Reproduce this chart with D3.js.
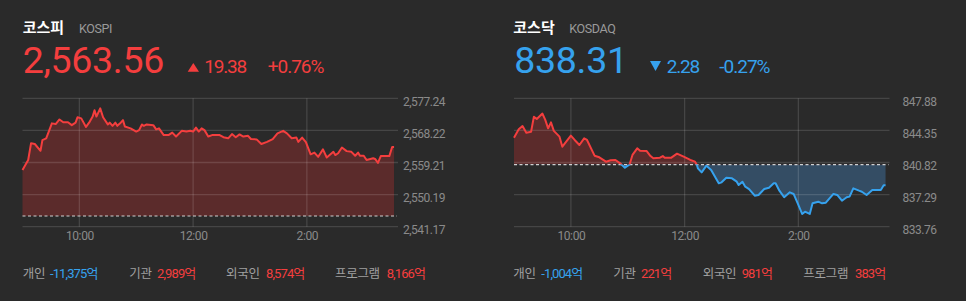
<!DOCTYPE html>
<html><head><meta charset="utf-8">
<script src="https://cdn.jsdelivr.net/npm/d3@7"></script>
<style>
html,body{margin:0;padding:0;background:#2a2a2a;}
svg{display:block;}
</style>
</head><body>
<svg id="c" width="966" height="301"></svg>
<script>
// ---------------- DATA ----------------
const kospiTimes = [
 "09:00","09:06","09:09","09:13","09:19","09:21","09:25","09:31","09:35","09:39",
 "09:43","09:48","09:52","09:56","09:58","10:02","10:07","10:11","10:14","10:16",
 "10:18","10:22","10:25","10:30","10:32","10:35","10:38","10:40","10:43","10:46",
 "10:48","10:54","11:00","11:03","11:06","11:08","11:11","11:18","11:21","11:24",
 "11:29","11:34","11:38","11:42","11:48","11:53","11:57","12:00","12:03","12:06",
 "12:09","12:12","12:16","12:20","12:28","12:32","12:37","12:41","12:45","12:49",
 "12:53","12:58","13:01","13:07","13:12","13:18","13:24","13:29","13:35","13:39",
 "13:44","13:49","13:51","13:55","13:59","14:04","14:08","14:12","14:17","14:21",
 "14:28","14:30","14:33","14:37","14:42","14:47","14:51","14:54","14:56","15:00",
 "15:03","15:10","15:12","15:15","15:18","15:27","15:30","15:32"];
const kospiValues = [
 2557.1,2559.9,2564.6,2564.4,2562.5,2565.5,2566.0,2570.2,2570.0,2571.3,
 2570.5,2570.5,2569.7,2570.4,2571.9,2571.6,2569.2,2570.7,2572.1,2573.9,
 2572.1,2574.4,2571.9,2569.9,2570.4,2569.5,2570.4,2569.5,2570.2,2571.1,
 2569.3,2568.8,2567.9,2568.3,2569.9,2569.5,2569.9,2569.7,2568.5,2568.8,
 2566.9,2566.9,2567.6,2566.5,2568.1,2567.9,2568.1,2567.9,2569.0,2567.9,
 2568.8,2568.3,2566.5,2566.9,2566.9,2566.3,2566.0,2567.2,2566.3,2567.1,
 2566.5,2566.7,2565.8,2565.7,2564.4,2565.0,2565.8,2567.4,2568.1,2567.4,
 2566.0,2566.2,2565.0,2566.2,2564.9,2561.5,2562.0,2560.8,2562.9,2560.6,
 2562.2,2561.3,2561.8,2563.4,2562.4,2562.2,2561.1,2562.0,2561.1,2561.1,
 2559.9,2560.4,2560.2,2559.1,2561.0,2561.0,2563.56,2563.56];
const kosdaqTimes = [
 "09:00","09:05","09:09","09:13","09:18","09:21","09:24","09:30","09:33","09:36",
 "09:39","09:42","09:48","09:51","10:00","10:04","10:09","10:14","10:17","10:25",
 "10:30","10:37","10:42","10:47","10:52","10:57","11:02","11:05","11:10","11:13",
 "11:20","11:24","11:27","11:34","11:37","11:39","11:46","11:52","11:59","12:06",
 "12:11","12:13","12:14","12:18","12:23","12:28","12:36","12:39","12:44","12:50",
 "12:55","12:57","13:01","13:04","13:08","13:14","13:18","13:24","13:29","13:34",
 "13:36","13:40","13:45","13:51","13:55","13:59","14:04","14:07","14:12","14:15",
 "14:21","14:25","14:29","14:37","14:41","14:46","14:51","14:54","14:58","15:04",
 "15:07","15:12","15:18","15:23","15:27","15:30","15:32"];
const kosdaqValues = [
 843.55,844.47,844.83,844.10,844.20,845.86,845.60,846.20,845.50,844.58,
 845.24,844.30,843.66,842.56,843.77,843.30,842.74,843.48,843.30,841.57,
 841.39,840.91,841.06,841.10,840.73,840.25,840.62,841.65,842.38,842.12,
 842.08,841.53,841.28,841.35,841.53,841.35,841.35,841.79,841.46,841.10,
 840.91,840.55,840.18,839.74,840.47,840.00,838.53,838.64,839.15,839.08,
 838.71,838.35,838.71,838.16,837.90,837.17,837.25,837.90,838.05,838.53,
 838.53,837.72,837.00,837.54,837.36,836.40,835.16,835.41,835.16,836.33,
 836.51,836.33,836.40,837.36,837.25,836.62,837.00,837.07,837.98,837.72,
 837.60,837.25,837.80,837.80,837.80,838.31,838.31];
const kospiYTicks  = [2541.17,2550.19,2559.21,2568.22,2577.24];
const kosdaqYTicks = [833.76,837.29,840.82,844.35,847.88];
const timeTicks = ["10:00","12:00","14:00"];
const timeTickLabels = ["10:00","12:00","2:00"];
const indexNames = ["코스피","코스닥"];
const indexCodes = ["KOSPI","KOSDAQ"];
const closeLabels = ["2,563.56","838.31"];
const changes = [19.38,-2.28];
const changePcts = ["+0.76%","-0.27%"];
const prevCloses = [2544.18,840.59];
const investorLabels = ["개인","기관","외국인","프로그램"];
const kospiFlows  = [-11375,2989,8574,8166];
const kosdaqFlows = [-1004,221,981,383];

// ---------------- LAYOUT ----------------
const W=966,H=301;
const RED="#f43e3e", BLUE="#36a2ee", RED_FILL="#5b2b2b", BLUE_FILL="#344d64";
const GRID="rgba(255,255,255,0.13)";
const TOP=98.3, BOTTOM=226.7;
const layout=[
 {left:22.5,right:395,axisX:445,nameX:22.7,codeX:79,bigX:22.7,triX:187.7,chgX:204.3,pctX:267.7,
  labelX:[22.7,129.3,226,335],valueX:[50,157,266,386.7]},
 {left:514,right:886.5,axisX:936.5,nameX:513.3,codeX:569.3,bigX:514.3,triX:650,chgX:666.7,pctX:719.3,
  labelX:[513.3,613.3,702.7,803.3],valueX:[541.3,641,741.7,855]}
];
const series=[
 {times:kospiTimes,values:kospiValues,yTicks:kospiYTicks,flows:kospiFlows},
 {times:kosdaqTimes,values:kosdaqValues,yTicks:kosdaqYTicks,flows:kosdaqFlows}
];
const NUM="Roboto, 'Noto Sans CJK KR', sans-serif";
const KR="'Noto Sans CJK KR', Roboto, sans-serif";

const parse=d3.timeParse("%H:%M");
const svg=d3.select("#c");
svg.append("rect").attr("width",W).attr("height",H).attr("fill","#2a2a2a");
const defs=svg.append("defs");
const fmtInt=v=>(v<0?"-":"")+d3.format(",")(Math.abs(v));

series.forEach((s,i)=>{
  const L=layout[i];
  const g=svg.append("g");
  const x=d3.scaleTime().domain([parse("09:00"),parse("15:33")]).range([L.left,L.right]);
  const y=d3.scaleLinear().domain([s.yTicks[0],s.yTicks[s.yTicks.length-1]]).range([BOTTOM,TOP]);
  const pts=s.times.map((t,k)=>({t:parse(t),v:s.values[k]}));
  const yb=y(prevCloses[i]);

  defs.append("clipPath").attr("id","up"+i).append("rect")
    .attr("x",0).attr("y",0).attr("width",W).attr("height",yb);
  defs.append("clipPath").attr("id","dn"+i).append("rect")
    .attr("x",0).attr("y",yb).attr("width",W).attr("height",H-yb);

  const area=d3.area().x(d=>x(d.t)).y0(yb).y1(d=>y(d.v));
  const line=d3.line().x(d=>x(d.t)).y(d=>y(d.v));

  g.append("path").datum(pts).attr("d",area).attr("fill",RED_FILL).attr("clip-path",`url(#up${i})`);
  g.append("path").datum(pts).attr("d",area).attr("fill",BLUE_FILL).attr("clip-path",`url(#dn${i})`);

  // horizontal gridlines
  g.selectAll(".hg").data(s.yTicks).join("line")
    .attr("x1",L.left).attr("x2",L.right+3)
    .attr("y1",d=>y(d)).attr("y2",d=>y(d))
    .attr("stroke",GRID).attr("stroke-width",1.3);
  // vertical gridlines
  g.selectAll(".vg").data(timeTicks).join("line")
    .attr("x1",d=>x(parse(d))).attr("x2",d=>x(parse(d)))
    .attr("y1",TOP).attr("y2",BOTTOM)
    .attr("stroke",GRID).attr("stroke-width",1.3);

  // previous close dashed line
  g.append("line").attr("x1",L.left).attr("x2",L.right+2).attr("y1",yb).attr("y2",yb)
    .attr("stroke","#d0d0d0").attr("stroke-width",1.2).attr("stroke-dasharray","3,2.5");

  g.append("path").datum(pts).attr("d",line).attr("fill","none").attr("stroke",RED)
    .attr("stroke-width",2).attr("stroke-linejoin","round").attr("clip-path",`url(#up${i})`);
  g.append("path").datum(pts).attr("d",line).attr("fill","none").attr("stroke",BLUE)
    .attr("stroke-width",2).attr("stroke-linejoin","round").attr("clip-path",`url(#dn${i})`);

  // y axis labels
  const ya=g.append("g").attr("transform",`translate(${L.axisX},0)`)
    .call(d3.axisLeft(y).tickValues(s.yTicks).tickFormat(d3.format(",.2f")).tickSize(0).tickPadding(0));
  ya.select(".domain").remove();
  ya.selectAll("text").attr("dy","0.6em").attr("fill","#8a8a8a")
    .style("font-family",NUM).style("font-size","12px").style("letter-spacing","-0.5px");

  // x axis labels
  const xa=g.append("g").attr("transform",`translate(0,${BOTTOM})`)
    .call(d3.axisBottom(x).tickValues(timeTicks.map(parse))
      .tickFormat((d,k)=>timeTickLabels[k]).tickSize(0).tickPadding(5));
  xa.select(".domain").remove();
  xa.selectAll("text").attr("fill","#8a8a8a")
    .style("font-family",NUM).style("font-size","12px").style("letter-spacing","-0.4px");

  // header
  const col=changes[i]>=0?RED:BLUE;
  g.append("text").attr("x",L.nameX).attr("y",33).text(indexNames[i])
    .attr("fill","#ffffff").style("font-family",KR).style("font-weight","700").style("font-size","15px");
  g.append("text").attr("x",L.codeX).attr("y",32.7).text(indexCodes[i])
    .attr("fill","#9a9a9a").style("font-family",NUM).style("font-size","12.5px").style("letter-spacing","-0.4px");
  g.append("text").attr("x",L.bigX).attr("y",73.3).text(closeLabels[i])
    .attr("fill",col).style("font-family",NUM).style("font-size","37.5px").style("letter-spacing","-0.3px");
  const tx=L.triX;
  const tri=changes[i]>=0
    ? `M${tx},71.7L${tx+5.6},63L${tx+11.3},71.7Z`
    : `M${tx},61L${tx+11},61L${tx+5.5},71Z`;
  g.append("path").attr("d",tri).attr("fill",col);
  g.append("text").attr("x",L.chgX).attr("y",73.3).text(Math.abs(changes[i]).toFixed(2))
    .attr("fill",col).style("font-family",NUM).style("font-size","19px").style("letter-spacing","-1.2px");
  g.append("text").attr("x",L.pctX).attr("y",73.3).text(changePcts[i])
    .attr("fill",col).style("font-family",NUM).style("font-size","19px").style("letter-spacing","-1px");

  // footer
  investorLabels.forEach((lab,k)=>{
    g.append("text").attr("x",L.labelX[k]).attr("y",277.7).text(lab)
      .attr("fill","#a0a0a0").style("font-family",KR).style("font-size","12.5px").style("letter-spacing","-0.3px");
    const v=s.flows[k];
    g.append("text").attr("x",L.valueX[k]).attr("y",277.7).text(fmtInt(v)+"억")
      .attr("fill",v<0?BLUE:RED).style("font-family",NUM).style("font-size","13px").style("letter-spacing","-0.9px");
  });
});
</script>
</body></html>
